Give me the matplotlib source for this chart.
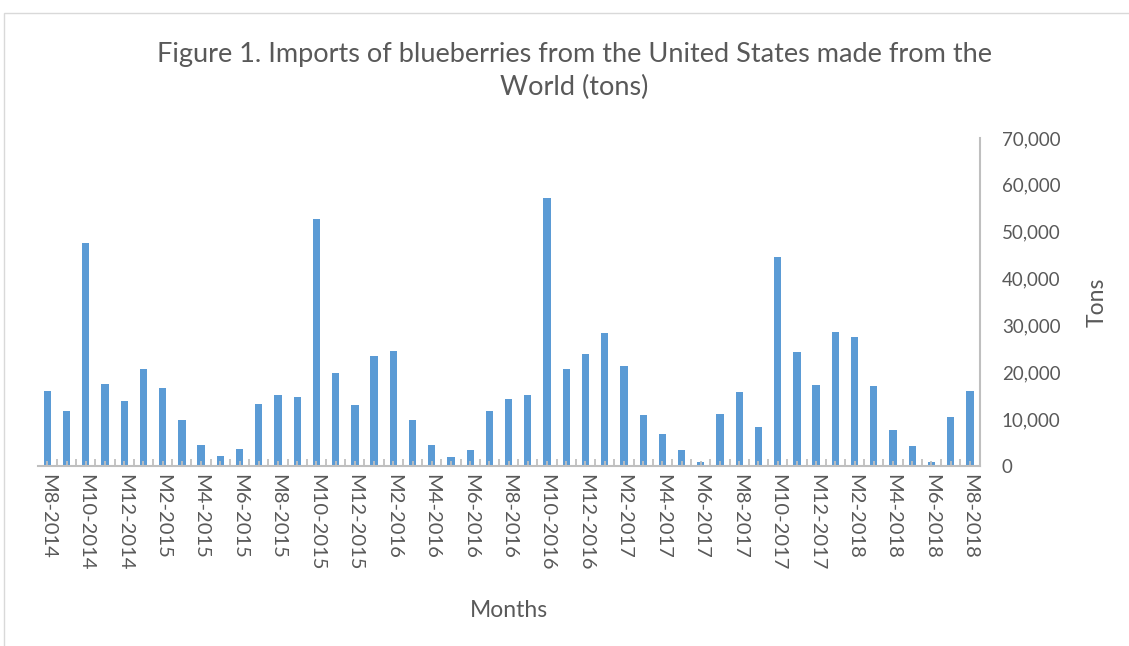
import numpy as np
import matplotlib
matplotlib.use("Agg")
import matplotlib.pyplot as plt
from matplotlib.patches import Rectangle

plt.rcParams['font.family'] = ['Lato', 'DejaVu Sans']

# monthly imports, tons, M8-2014 .. M8-2018
months = []
m, y = 8, 2014
for i in range(49):
    months.append('M%d-%d' % (m, y))
    m += 1
    if m > 12:
        m, y = 1, y + 1

tons = [16100, 11800, 47500, 17600, 13900, 20800, 16600, 9750, 4500, 2100,
        3600, 13200, 15100, 14700, 52800, 19800, 13000, 23400, 24500, 9750,
        4500, 2000, 3500, 11700, 14400, 15100, 57200, 20800, 23800, 28400,
        21300, 10800, 6900, 3400, 900, 11000, 15700, 8300, 44500, 24300,
        17300, 28600, 27600, 17100, 7600, 4300, 900, 10400, 16100]

yticks = [0, 10000, 20000, 30000, 40000, 50000, 60000, 70000]

bar_color = '#5B9BD5'
txt = '#595959'
line = '#BFBFBF'

fig = plt.figure(figsize=(11.29, 6.46), dpi=100)
ax = fig.add_axes([0.0334, 0.2786, 0.8342, 0.5078])

x = np.arange(len(tons))
ax.bar(x, tons, width=0.38, color=bar_color, zorder=1)

ax.set_xlim(-0.5, len(tons) - 0.5)
ax.set_ylim(0, 70000)

ax.yaxis.tick_right()
ax.yaxis.set_label_position('right')
ax.set_yticks(yticks)
ax.set_yticklabels(['{:,}'.format(v) for v in yticks], fontsize=13.5, color=txt)
ax.tick_params(axis='y', length=0, pad=16)

ax.set_xticks(x)
ax.set_xticklabels([s if i % 2 == 0 else '' for i, s in enumerate(months)],
                   rotation=-90, fontsize=14.5, color=txt)
ax.set_xticks(x[:-1] + 0.5, minor=True)
ax.tick_params(axis='x', which='major', direction='in', length=3.5, width=1.3,
               color=line, pad=6)
ax.tick_params(axis='x', which='minor', direction='in', length=5, width=1.3,
               color=line)

for s in ['top', 'left']:
    ax.spines[s].set_visible(False)
ax.spines['bottom'].set_color(line)
ax.spines['bottom'].set_linewidth(1.5)
ax.spines['right'].set_color(line)
ax.spines['right'].set_linewidth(1.5)

ax.set_xlabel('Months', fontsize=16.5, color=txt, labelpad=21)
ax.set_ylabel('Tons', fontsize=16.5, color=txt, rotation=90, labelpad=19)

fig.text(0.509, 0.89, 'Figure 1. Imports of blueberries from the United States made from the\nWorld (tons)',
         ha='center', va='center', fontsize=19.5, color=txt, linespacing=1.4)

fig.patches.append(Rectangle((4 / 1129, -0.05), 1.1, 1 - 13 / 646 + 0.05,
                             transform=fig.transFigure, fill=False,
                             edgecolor='#D9D9D9', linewidth=1))

fig.savefig('out.png', dpi=100)
